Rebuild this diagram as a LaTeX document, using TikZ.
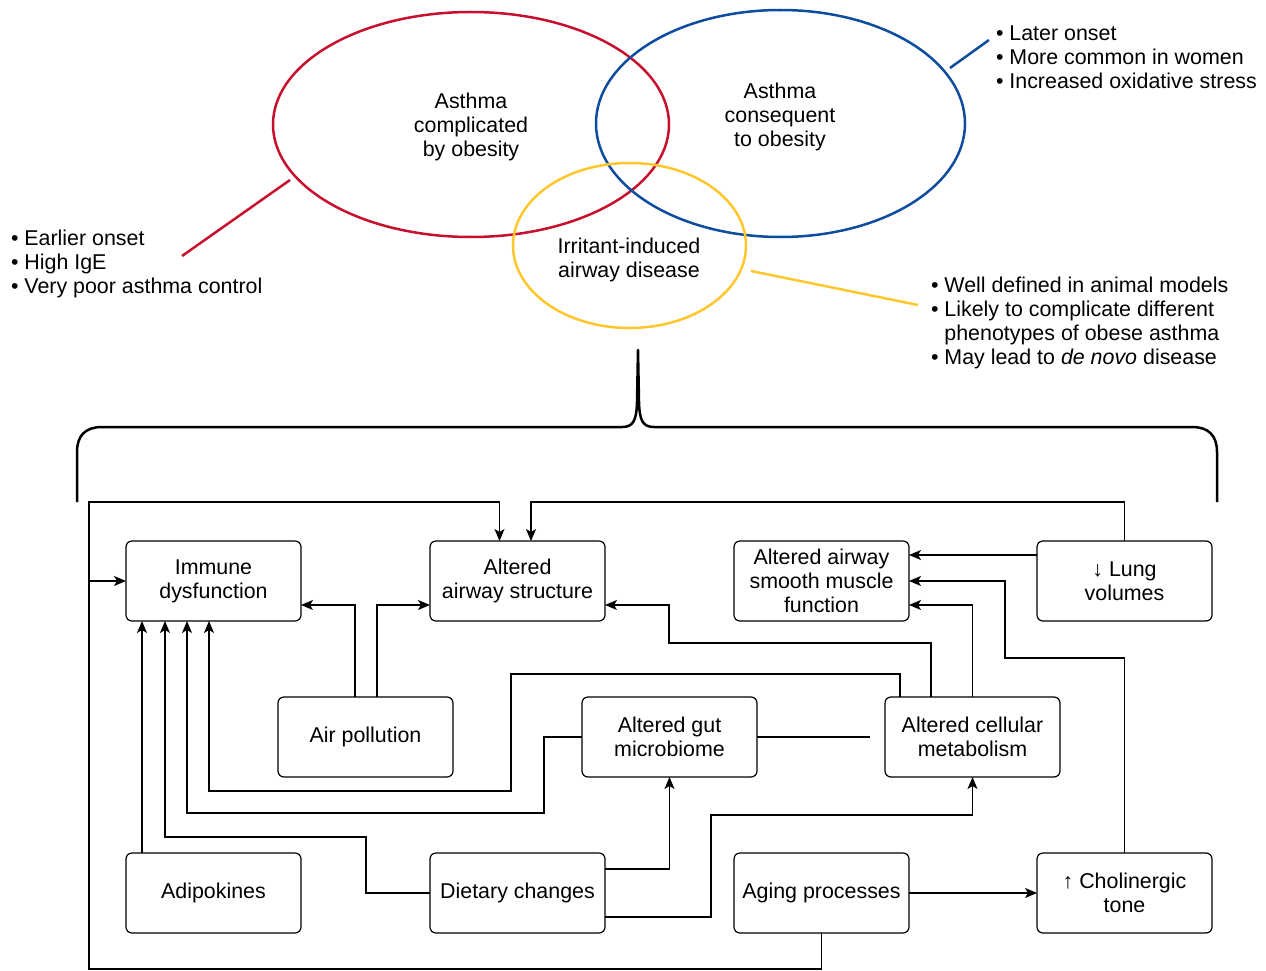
\documentclass[tikz,border=0pt]{standalone}
\usepackage{fontspec}
\setmainfont{Liberation Sans}
\usetikzlibrary{arrows.meta,shapes.geometric}
\definecolor{obred}{HTML}{C8102E}
\definecolor{obblue}{HTML}{0D4C9E}
\definecolor{obyellow}{HTML}{FFC72C}
\tikzset{
  txt/.style={inner sep=0pt, outer sep=0pt, align=center, font=\fontsize{21.4}{24}\selectfont},
  bul/.style={txt, align=left, anchor=west},
  ring/.style={ellipse, draw, line width=2.5pt, inner sep=0pt, outer sep=0pt},
  lead/.style={line width=2.5pt},
  box/.style={txt, draw, rounded corners=6pt, line width=1.2pt, minimum width=175pt, minimum height=80pt},
  ln/.style={line width=1.2pt},
  arr/.style={ln, -{Stealth[length=12pt,width=10pt,inset=3pt]}},
  brace/.style={line width=2.5pt, line join=round}
}
\begin{document}
\begin{tikzpicture}[x=1pt,y=-1pt]
\useasboundingbox (0,0) rectangle (1266,971);

% ---- Venn ellipses
\node[ring, obred, minimum width=396pt, minimum height=225pt] (red) at (471,124.5) {};
\node[ring, obblue, minimum width=369pt, minimum height=227pt] (blue) at (780.5,123.5) {};
\node[ring, obyellow, minimum width=233pt, minimum height=165pt] (yel) at (629.5,245.5) {};

\node[txt] (redt) at (471,127) {Asthma\\complicated\\by obesity};
\node[txt] (bluet) at (780,117) {Asthma\\consequent\\to obesity};
\node[txt] (yelt) at (629,260) {Irritant-induced\\airway disease};

% ---- bullet lists
\node[bul] (lt) at (11,264) {• Earlier onset\\• High IgE\\• Very poor asthma control};
\node[bul] (rt) at (996,57) {• Later onset\\• More common in women\\• Increased oxidative stress};
\node[bul] (yt) at (931,323) {• Well defined in animal models\\• Likely to complicate different\\\phantom{• }phenotypes of obese asthma\\• May lead to \textit{de novo} disease};

% ---- leader lines
\coordinate (rl1) at (290,180); \coordinate (rl2) at (182,256);
\coordinate (bl1) at (950,68);  \coordinate (bl2) at (989,40);
\coordinate (yl1) at (751,271); \coordinate (yl2) at (918,305);
\draw[lead, obred] (rl1) -- (rl2);
\draw[lead, obblue] (bl1) -- (bl2);
\draw[lead, obyellow] (yl1) -- (yl2);

% ---- brace
\draw[brace] (77,502) -- (77,452) .. controls (77,436) and (85,427) .. (102,427)
  -- (622,427) .. controls (633,427) and (636.5,421) .. (637,402) -- (638,350)
  -- (639,402) .. controls (639.5,421) and (643,427) .. (654,427)
  -- (1192,427) .. controls (1209,427) and (1217,436) .. (1217,452) -- (1217,502);

% ---- boxes
\node[box] (imm)   at (213.5,581) {Immune\\dysfunction};
\node[box] (aas)   at (517.5,581) {Altered\\airway structure};
\node[box] (asm)   at (821.5,581) {Altered airway\\smooth muscle\\function};
\node[box] (lung)  at (1124.5,581) {↓ Lung\\volumes};
\node[box] (air)   at (365.5,737) {Air pollution};
\node[box] (gut)   at (669.5,737) {Altered gut\\microbiome};
\node[box] (cell)  at (972.5,737) {Altered cellular\\metabolism};
\node[box] (adi)   at (213.5,893) {Adipokines};
\node[box] (diet)  at (517.5,893) {Dietary changes};
\node[box] (aging) at (821.5,893) {Aging processes};
\node[box] (chol)  at (1124.5,893) {↑ Cholinergic\\tone};

% ---- connectors
\coordinate (fl) at (89,581);
\draw[arr] (aging.south) -- ++(0,36) -| (89,502) -| ([xshift=-18pt]aas.north);
\draw[arr] (fl) -- (imm.west);
\draw[arr] (lung.north) -- ++(0,-39) -| ([xshift=13.5pt]aas.north);
\draw[arr] (lung.west |- 0,555) -- (asm.east |- 0,555);
\draw[arr] (chol.north) |- (1005,658) |- (asm.east);
\draw[arr] (cell.north) |- (asm.east |- 0,605);
\draw[arr] (cell.north -| 931,0) |- (669,643) |- (aas.east |- 0,605);
\draw[arr] (cell.north -| 900,0) |- (511,674) |- (209,791) -- (imm.south -| 209,0);
\draw[arr] (air.north -| 355,0) |- (imm.east |- 0,605);
\draw[arr] (air.north -| 377,0) |- (aas.west |- 0,605);
\draw[arr] (gut.west) -| (544,813) -| (imm.south -| 187,0);
\coordinate (gutend) at (870,737);
\draw[ln] (gut.east) -- (gutend);
\draw[arr] (diet.west) -| (366,837) -| (imm.south -| 165,0);
\draw[arr] (adi.north -| 142,0) -- (imm.south -| 142,0);
\draw[arr] (diet.east |- 0,869) -| (gut.south);
\draw[arr] (diet.east |- 0,917) -| (711,815) -| (cell.south);
\draw[arr] (aging) -- (chol);
\end{tikzpicture}
\end{document}
